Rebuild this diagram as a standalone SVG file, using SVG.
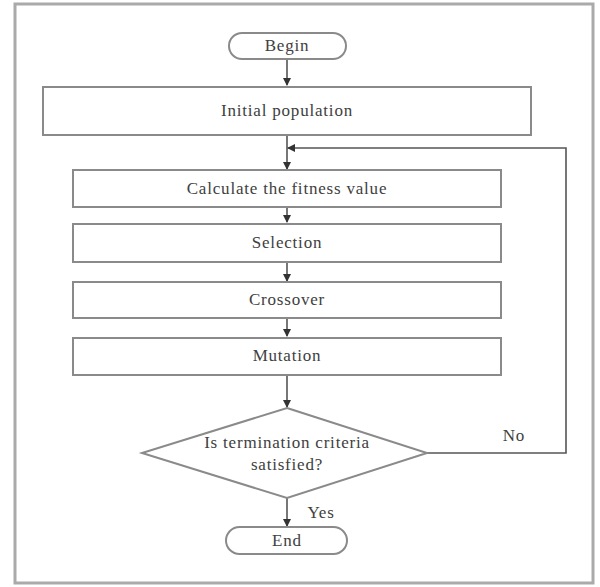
<svg xmlns="http://www.w3.org/2000/svg" width="600" height="587" viewBox="0 0 600 587">
<style>
.box{fill:#fff;stroke:#8a8a8a;stroke-width:2}
.t{font-family:"Liberation Serif","Times New Roman",serif;font-size:17px;letter-spacing:0.8px;fill:#404040;text-anchor:middle}
.c{fill:none;stroke:#555;stroke-width:1.6}
</style>
<defs>
<marker id="ah" markerWidth="8" markerHeight="8" refX="7" refY="4" orient="auto" markerUnits="userSpaceOnUse">
<path d="M0,0 L8,4 L0,8 z" fill="#333"/>
</marker>
</defs>
<rect width="600" height="587" fill="#fff"/>
<rect x="15" y="4" width="578" height="579" fill="none" stroke="#aaa" stroke-width="3"/>
<g id="connectors">
<line class="c" x1="287" y1="59" x2="287" y2="85" marker-end="url(#ah)"/>
<line class="c" x1="287" y1="135" x2="287" y2="169" marker-end="url(#ah)"/>
<line class="c" x1="287" y1="207" x2="287" y2="222" marker-end="url(#ah)"/>
<line class="c" x1="287" y1="262" x2="287" y2="281" marker-end="url(#ah)"/>
<line class="c" x1="287" y1="318" x2="287" y2="336" marker-end="url(#ah)"/>
<line class="c" x1="287" y1="375" x2="287" y2="407" marker-end="url(#ah)"/>
<line class="c" x1="287" y1="498" x2="287" y2="526" marker-end="url(#ah)"/>
<polyline class="c" points="427,453 566,453 566,148 288,148" marker-end="url(#ah)"/>
</g>
<g id="begin">
<rect class="box" x="229" y="33" width="117" height="26" rx="13"/>
<text class="t" x="287" y="51">Begin</text>
</g>
<g id="initial">
<rect class="box" x="43" y="87" width="488" height="48"/>
<text class="t" x="287" y="116">Initial population</text>
</g>
<g id="fitness">
<rect class="box" x="73" y="170" width="428" height="37"/>
<text class="t" x="287" y="194">Calculate the fitness value</text>
</g>
<g id="selection">
<rect class="box" x="73" y="224" width="428" height="38"/>
<text class="t" x="287" y="248">Selection</text>
</g>
<g id="crossover">
<rect class="box" x="73" y="282" width="428" height="36"/>
<text class="t" x="287" y="305">Crossover</text>
</g>
<g id="mutation">
<rect class="box" x="73" y="338" width="428" height="37"/>
<text class="t" x="287" y="361">Mutation</text>
</g>
<g id="decision">
<polygon class="box" points="287,408 427,453 287,498 142,453"/>
<text class="t" x="287" y="448">Is termination criteria</text>
<text class="t" x="287" y="470">satisfied?</text>
</g>
<g id="end">
<rect class="box" x="226" y="527" width="121" height="27" rx="13.5"/>
<text class="t" x="287" y="546">End</text>
</g>
<text class="t" x="514" y="441">No</text>
<text class="t" x="321" y="518">Yes</text>
</svg>
